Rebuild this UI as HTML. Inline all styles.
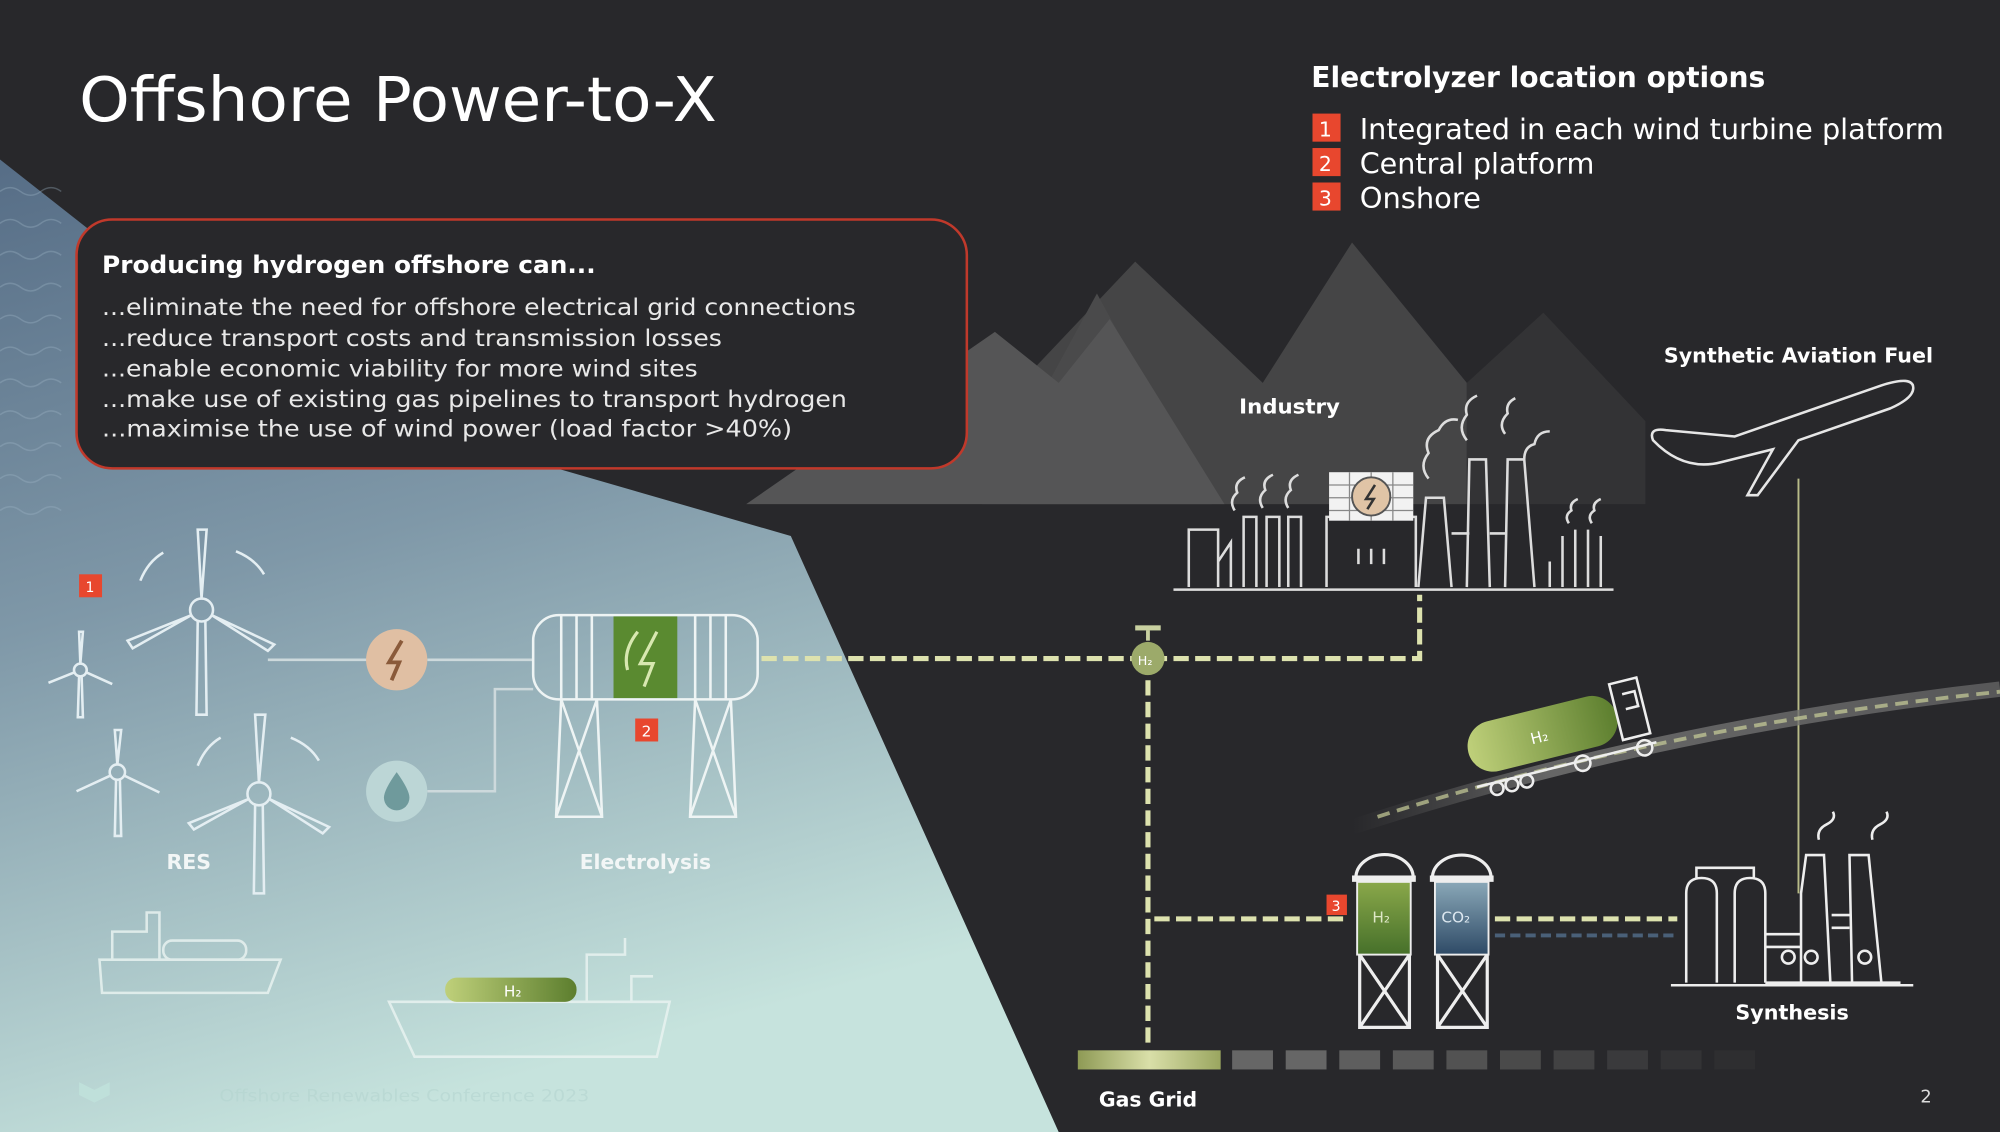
<!DOCTYPE html>
<html><head><meta charset="utf-8"><style>
html,body{margin:0;padding:0;background:#28282b;}
svg{display:block}
text{font-family:"DejaVu Sans","Liberation Sans",sans-serif;}
</style></head><body>
<svg width="2000" height="1132" viewBox="0 0 1568 887" preserveAspectRatio="none" xmlns="http://www.w3.org/2000/svg">
<defs>
<linearGradient id="sea" x1="0" y1="0" x2="0.3" y2="1">
<stop offset="0" stop-color="#566d86"/><stop offset="0.45" stop-color="#7f98a8"/><stop offset="1" stop-color="#c6e3dd"/>
</linearGradient>
<linearGradient id="gg" x1="0" x2="1"><stop offset="0" stop-color="#8e9a55"/><stop offset="0.5" stop-color="#d9dfa8"/><stop offset="1" stop-color="#9aa660"/></linearGradient>
<linearGradient id="h2t" x1="0" x2="0" y1="0" y2="1"><stop offset="0" stop-color="#8aa84a"/><stop offset="1" stop-color="#46702a"/></linearGradient>
<linearGradient id="co2" x1="0" x2="0" y1="0" y2="1"><stop offset="0" stop-color="#8aa8b8"/><stop offset="1" stop-color="#2e4a66"/></linearGradient>
<linearGradient id="truck" x1="0" x2="1"><stop offset="0" stop-color="#bfd07a"/><stop offset="1" stop-color="#5c7e2e"/></linearGradient>
<linearGradient id="road" x1="0" x2="1"><stop offset="0" stop-color="#555" stop-opacity="0"/><stop offset="0.3" stop-color="#666"/><stop offset="1" stop-color="#777" stop-opacity="0.6"/></linearGradient>
</defs>
<rect width="1568" height="887" fill="#28282b"/>
<!-- mountains -->
<polygon points="800,300 890,205 990,300 1060,190 1150,300 1150,395 800,395" fill="#454546"/>
<polygon points="1150,300 1210,245 1290,330 1290,395 1150,395" fill="#333335"/>
<polygon points="770,395 860,230 950,395" fill="#4a4a4b"/>
<polygon points="585,395 780,260 830,300 870,250 960,395" fill="#555556"/>
<!-- sea -->
<polygon points="0,125 70,180 440,368 620,420 830,887 0,887" fill="url(#sea)"/>
<g stroke="#9fb4c6" stroke-opacity="0.35" fill="none" stroke-width="1.2">
<path d="M0,150 q8,-6 16,0 t16,0 t16,0"/><path d="M0,175 q8,-6 16,0 t16,0 t16,0"/><path d="M0,200 q8,-6 16,0 t16,0 t16,0"/><path d="M0,225 q8,-6 16,0 t16,0 t16,0"/><path d="M0,250 q8,-6 16,0 t16,0 t16,0"/><path d="M0,275 q8,-6 16,0 t16,0 t16,0"/><path d="M0,300 q8,-6 16,0 t16,0 t16,0"/><path d="M0,325 q8,-6 16,0 t16,0 t16,0"/><path d="M0,350 q8,-6 16,0 t16,0 t16,0"/><path d="M0,375 q8,-6 16,0 t16,0 t16,0"/><path d="M0,400 q8,-6 16,0 t16,0 t16,0"/>
</g>
<!-- title -->
<text x="62" y="95" font-size="48" fill="#fff" textLength="500" lengthAdjust="spacingAndGlyphs">Offshore Power-to-X</text>
<text x="1028" y="68" font-size="22" font-weight="bold" fill="#fff" textLength="356" lengthAdjust="spacingAndGlyphs">Electrolyzer location options</text>
<g font-size="22" fill="#fff">
<rect x="1029" y="89" width="22" height="22" fill="#e8472e"/><text x="1034" y="107" font-size="16">1</text><text x="1066" y="109" textLength="458" lengthAdjust="spacingAndGlyphs">Integrated in each wind turbine platform</text>
<rect x="1029" y="116" width="22" height="22" fill="#e8472e"/><text x="1034" y="134" font-size="16">2</text><text x="1066" y="136" textLength="184" lengthAdjust="spacingAndGlyphs">Central platform</text>
<rect x="1029" y="143" width="22" height="22" fill="#e8472e"/><text x="1034" y="161" font-size="16">3</text><text x="1066" y="163" textLength="95" lengthAdjust="spacingAndGlyphs">Onshore</text>
</g>
<!-- box -->
<rect x="60" y="172" width="698" height="195" rx="28" fill="#28282b" stroke="#c0392b" stroke-width="2"/>
<text x="80" y="214" font-size="19" font-weight="bold" fill="#fff" textLength="387" lengthAdjust="spacingAndGlyphs">Producing hydrogen offshore can...</text>
<g font-size="18" fill="#e8e8e8">
<text x="80" y="247" textLength="591" lengthAdjust="spacingAndGlyphs">...eliminate the need for offshore electrical grid connections</text>
<text x="80" y="271" textLength="486" lengthAdjust="spacingAndGlyphs">...reduce transport costs and transmission losses</text>
<text x="80" y="295" textLength="467" lengthAdjust="spacingAndGlyphs">...enable economic viability for more wind sites</text>
<text x="80" y="319" textLength="584" lengthAdjust="spacingAndGlyphs">...make use of existing gas pipelines to transport hydrogen</text>
<text x="80" y="342" textLength="541" lengthAdjust="spacingAndGlyphs">...maximise the use of wind power (load factor &gt;40%)</text>
</g>
<!-- turbines -->
<g stroke="#e4eef2" stroke-width="2" fill="none">
<circle cx="158" cy="478" r="9"/><path d="M155,487 L154,560 L162,560 L161,487"/><path d="M158,469 L155,415 L162,415 Z"/><path d="M150,482 L100,502 L104,508 Z"/><path d="M166,482 L215,505 L210,510 Z"/>
<path d="M185,432 q15,6 22,18 M110,455 q6,-15 18,-22"/>
<circle cx="63" cy="525" r="5"/><path d="M62,530 L61,562 L65,562 L64,530 M63,520 L62,495 L65,495 Z M58,527 L38,535 Z M68,527 L88,536 Z"/>
<circle cx="92" cy="605" r="6"/><path d="M91,611 L90,655 L95,655 L94,611 M92,599 L90,572 L95,572 Z M86,608 L60,620 Z M98,608 L125,621 Z"/>
<circle cx="203" cy="622" r="9"/><path d="M200,631 L199,700 L207,700 L206,631 M203,613 L200,560 L208,560 Z M195,626 L148,645 L152,650 Z M211,626 L258,648 L253,653 Z"/>
<path d="M228,578 q15,6 22,18 M155,600 q6,-15 18,-22"/>
</g>
<rect x="62" y="450" width="18" height="18" fill="#e8472e"/><text x="67" y="464" font-size="11" fill="#fff">1</text>
<line x1="210" y1="517" x2="288" y2="517" stroke="#cdd9dc" stroke-width="2"/>
<line x1="335" y1="517" x2="418" y2="517" stroke="#cdd9dc" stroke-width="2"/>
<path d="M335,620 L388,620 L388,540 L418,540" stroke="#cdd9dc" stroke-width="2" fill="none"/>
<circle cx="311" cy="517" r="24" fill="#e0bfa3"/><path d="M315,502 L305,519 L313,519 L307,533" stroke="#8a5a3a" stroke-width="3" fill="none"/>
<circle cx="311" cy="620" r="24" fill="#bcd6d6"/><path d="M311,605 q-10,14 -10,20 a10,10 0 0 0 20,0 q0,-6 -10,-20z" fill="#6f9a9c"/>
<!-- electrolyzer -->
<g stroke="#eef4f4" stroke-width="2" fill="none">
<rect x="418" y="482" width="176" height="66" rx="20"/>
<path d="M440,482 v66 M452,482 v66 M464,482 v66 M545,482 v66 M557,482 v66 M569,482 v66"/>
<path d="M440,548 L436,640 L472,640 L468,548 M440,548 L472,640 M468,548 L436,640"/>
<path d="M545,548 L541,640 L577,640 L573,548 M545,548 L577,640 M573,548 L541,640"/>
</g>
<rect x="481" y="483" width="50" height="64" fill="#5a8a30"/>
<path d="M500,495 q-12,15 -8,30 M515,495 L502,520 L512,520 L505,538" stroke="#d8e8b0" stroke-width="2.5" fill="none"/>
<rect x="498" y="563" width="18" height="18" fill="#e8472e"/><text x="503" y="577" font-size="12" fill="#fff">2</text>
<text x="148" y="681" font-size="16" font-weight="bold" fill="#f2f6f6" text-anchor="middle" textLength="35" lengthAdjust="spacingAndGlyphs">RES</text>
<text x="506" y="681" font-size="16" font-weight="bold" fill="#f2f6f6" text-anchor="middle" textLength="103" lengthAdjust="spacingAndGlyphs">Electrolysis</text>
<!-- ships -->
<g stroke="#e8f2f0" stroke-width="2" fill="none" opacity="0.85">
<path d="M78,752 L220,752 L210,778 L80,778 Z M88,752 V730 H115 V715 H125 V752"/><rect x="128" y="737" width="65" height="15" rx="7"/>
<path d="M305,785 L525,785 L515,828 L325,828 Z M460,785 V748 H490 V735 M495,785 V765 H512"/>
</g>
<rect x="349" y="766" width="103" height="19" rx="9" fill="url(#truck)"/><text x="395" y="781" font-size="12" fill="#fff">H₂</text>
<path d="M62,848 l12,6 l12,-6 v10 l-12,6 l-12,-6z" fill="#bfe0da"/>
<text x="172" y="863" font-size="13" fill="#b5d5d0" opacity="0.6" textLength="290" lengthAdjust="spacingAndGlyphs">Offshore Renewables Conference 2023</text>
<!-- dashed pipelines -->
<g stroke="#dde2ae" stroke-width="4" stroke-dasharray="12,5" fill="none">
<path d="M597,516 H1113 V466"/>
<path d="M900,516 V820"/>
<path d="M905,720 H1058"/>
<path d="M1172,720 H1315"/>
</g>
<path d="M1172,733 H1315" stroke="#4a6078" stroke-width="3" stroke-dasharray="8,4"/>
<line x1="1410" y1="375" x2="1410" y2="700" stroke="#b8bb88" stroke-width="1.5"/>
<!-- valve -->
<g><rect x="890" y="490" width="20" height="4" fill="#c8d0a0"/><line x1="900" y1="494" x2="900" y2="502" stroke="#c8d0a0" stroke-width="3"/><circle cx="900" cy="516" r="13" fill="#9caa6a"/><text x="892" y="521" font-size="10" fill="#fff">H₂</text></g>
<!-- road -->
<path d="M1060,648 Q1300,570 1568,540" stroke="url(#road)" stroke-width="12" fill="none"/>
<path d="M1080,640 Q1300,570 1568,542" stroke="#c9cf9a" stroke-width="3" stroke-dasharray="10,6" fill="none" opacity="0.7"/>
<!-- truck -->
<g transform="rotate(-14 1230 575)">
<rect x="1150" y="550" width="120" height="40" rx="20" fill="url(#truck)"/>
<text x="1200" y="576" font-size="12" fill="#fff">H₂</text>
<g stroke="#eee" stroke-width="2" fill="none"><path d="M1270,545 h22 v45 h-22 z M1278,555 h10 v12 h-10"/><path d="M1150,598 h145"/><circle cx="1165" cy="603" r="5"/><circle cx="1177" cy="603" r="5"/><circle cx="1189" cy="603" r="5"/><circle cx="1235" cy="600" r="6"/><circle cx="1285" cy="600" r="6"/></g>
</g>
<!-- gas grid -->
<rect x="845" y="823" width="112" height="15" fill="url(#gg)"/>
<g fill="#666"><rect x="966" y="823" width="32" height="15"/><rect x="1008" y="823" width="32" height="15"/><rect x="1050" y="823" width="32" height="15" fill="#5e5e5e"/><rect x="1092" y="823" width="32" height="15" fill="#595959"/><rect x="1134" y="823" width="32" height="15" fill="#525252"/><rect x="1176" y="823" width="32" height="15" fill="#4a4a4a"/><rect x="1218" y="823" width="32" height="15" fill="#424243"/><rect x="1260" y="823" width="32" height="15" fill="#3a3a3c"/><rect x="1302" y="823" width="32" height="15" fill="#333335"/><rect x="1344" y="823" width="32" height="15" fill="#2e2e30"/></g>
<text x="900" y="867" font-size="16" font-weight="bold" fill="#fff" text-anchor="middle" textLength="77" lengthAdjust="spacingAndGlyphs">Gas Grid</text>
<text x="1510" y="864" font-size="14" fill="#ddd" text-anchor="middle">2</text>
<!-- tanks -->
<g stroke="#eee" stroke-width="2.5" fill="none">
<path d="M1063,688 a22,18 0 0 1 45,0 M1123,688 a23,18 0 0 1 46,0"/>
<path d="M1066,748 L1066,805 L1105,805 L1105,748 M1066,748 L1105,805 M1105,748 L1066,805"/>
<path d="M1127,748 L1127,805 L1166,805 L1166,748 M1127,748 L1166,805 M1166,748 L1127,805"/>
</g>
<rect x="1060" y="686" width="50" height="5" fill="#eee"/><rect x="1121" y="686" width="50" height="5" fill="#eee"/>
<rect x="1064" y="691" width="42" height="57" fill="url(#h2t)" stroke="#eee" stroke-width="1.5"/>
<rect x="1125" y="691" width="42" height="57" fill="url(#co2)" stroke="#eee" stroke-width="1.5"/>
<text x="1076" y="723" font-size="12" fill="#dfe8c8">H₂</text><text x="1130" y="723" font-size="12" fill="#dde8f0">CO₂</text>
<rect x="1040" y="701" width="16" height="16" fill="#e8472e"/><text x="1044" y="714" font-size="11" fill="#fff">3</text>
<!-- synthesis factory -->
<g stroke="#eee" stroke-width="2" fill="none">
<path d="M1310,772 H1500"/>
<path d="M1322,770 V700 q0,-12 12,-12 q12,0 12,12 V770 M1360,770 V700 q0,-12 12,-12 q12,0 12,12 V770 M1330,688 v-8 h45 v8"/>
<path d="M1384,732 H1412 M1384,742 H1412 M1412,770 V700 L1416,670 H1430 L1435,770 M1452,770 L1450,670 H1465 L1475,770 M1436,717 H1450 M1436,727 H1450 M1384,770 H1490"/>
<circle cx="1402" cy="750" r="5"/><circle cx="1420" cy="750" r="5"/><circle cx="1462" cy="750" r="5"/>
<path d="M1426,658 q-2,-8 6,-12 q8,-4 5,-10 M1468,658 q-2,-8 6,-12 q8,-4 5,-10"/>
</g>
<text x="1405" y="799" font-size="16" font-weight="bold" fill="#fff" text-anchor="middle" textLength="89" lengthAdjust="spacingAndGlyphs">Synthesis</text>
<!-- industry -->
<g stroke="#ddd" stroke-width="2" fill="none">
<path d="M920,462 H1265"/>
<path d="M932,460 V415 H955 V460 M955,440 L965,425 V460 M975,460 V405 H985 V460 M993,460 V405 H1003 V460 M1010,460 V405 H1020 V460"/>
<path d="M1040,460 V405 H1110 V460 M1065,430 v12 M1075,430 v12 M1085,430 v12"/>
<path d="M1112,460 L1118,390 H1132 L1138,460 M1150,460 L1152,360 H1165 L1168,460 M1180,460 L1182,360 H1195 L1203,460 M1138,418 H1152 M1168,418 H1180"/>
<path d="M1215,460 V440 M1225,460 V420 M1235,460 V415 M1245,460 V415 M1255,460 V420"/>
<path d="M1120,375 q-8,-10 0,-20 q-5,-12 8,-18 q5,-10 15,-8 M1150,345 q-8,-10 0,-20 q-3,-10 8,-15 M1180,340 q-6,-8 2,-16 q-2,-8 6,-12 M1195,360 q0,-10 8,-12 q2,-10 12,-10"/>
<path d="M968,400 q-5,-8 2,-14 q-3,-8 6,-12 M990,398 q-5,-8 2,-14 q-3,-8 6,-12 M1010,398 q-5,-8 2,-14 q-3,-8 6,-12 M1230,410 q-4,-6 2,-10 q-2,-6 5,-9 M1248,410 q-4,-6 2,-10 q-2,-6 5,-9"/>
</g>
<rect x="1042" y="370" width="66" height="38" fill="#f2f2f2"/>
<g stroke="#888" stroke-width="1"><path d="M1042,380 H1108 M1042,390 H1108 M1042,400 H1108 M1058,370 V408 M1075,370 V408 M1092,370 V408"/></g>
<circle cx="1075" cy="389" r="15" fill="#e0c4a6" stroke="#555" stroke-width="1.5"/>
<path d="M1078,380 L1071,391 L1077,391 L1072,399" stroke="#333" stroke-width="2" fill="none"/>
<text x="1011" y="324" font-size="16" font-weight="bold" fill="#fff" text-anchor="middle" textLength="79" lengthAdjust="spacingAndGlyphs">Industry</text>
<!-- plane -->
<path d="M1296,345 q-4,-10 10,-8 L1360,342 L1475,302 q25,-8 25,2 q0,8 -18,16 L1410,345 L1378,388 h-8 L1390,352 L1350,362 q-30,8 -54,-17z" stroke="#e6e6e6" stroke-width="2" fill="none"/>
<text x="1410" y="284" font-size="16" font-weight="bold" fill="#fff" text-anchor="middle" textLength="211" lengthAdjust="spacingAndGlyphs">Synthetic Aviation Fuel</text>
</svg>
</body></html>
